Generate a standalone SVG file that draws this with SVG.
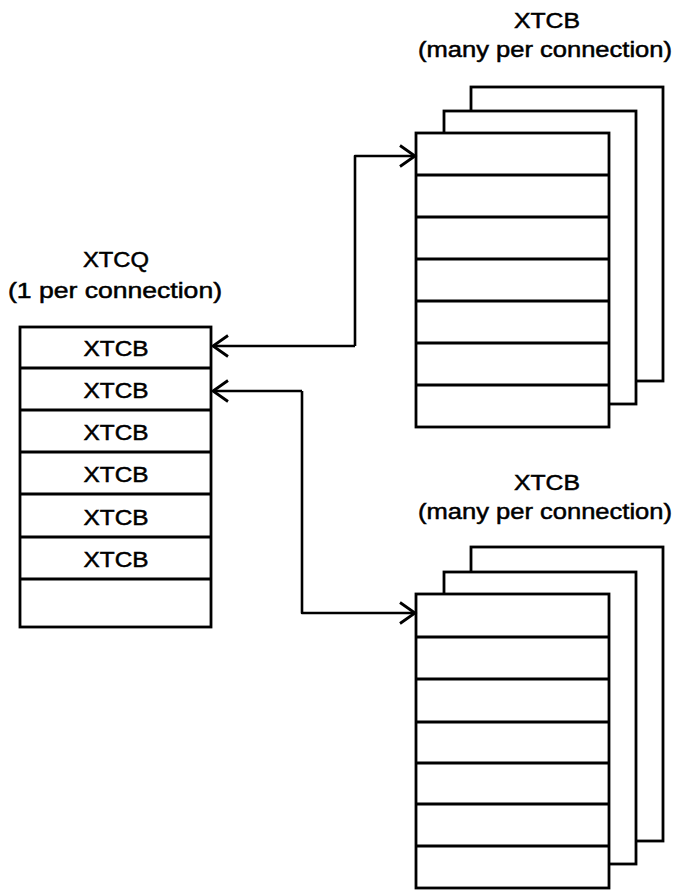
<svg xmlns="http://www.w3.org/2000/svg" width="678" height="890" viewBox="0 0 678 890">
<style>
.box{fill:#fff;stroke:#000;stroke-width:2.8}
.ln{stroke:#000;stroke-width:2.8;fill:none}
.con{stroke:#000;stroke-width:2.6;fill:none;stroke-linejoin:round}
.t{font-family:"Liberation Sans",Arial,sans-serif;font-size:22px;fill:#000;stroke:#000;stroke-width:0.5;text-anchor:middle}
</style>
<defs>
<marker id="arr" markerUnits="userSpaceOnUse" markerWidth="20" markerHeight="26" viewBox="-17 -13 20 26" refX="0" refY="0" orient="auto">
<path d="M-15,-10.5 L0,0 L-15,10.5" fill="none" stroke="#000" stroke-width="2.8"/>
</marker>
</defs>
<rect width="678" height="890" fill="#fff"/>

<g id="xtcq">
<text class="t" x="116" y="267" textLength="66" lengthAdjust="spacingAndGlyphs">XTCQ</text>
<text class="t" x="115" y="298" textLength="214" lengthAdjust="spacingAndGlyphs">(1 per connection)</text>
<rect class="box" x="20" y="327" width="191" height="300"/>
<path class="ln" d="M20,368H211M20,410H211M20,452H211M20,494H211M20,537H211M20,579H211"/>
<text class="t" x="116" y="356" textLength="65" lengthAdjust="spacingAndGlyphs">XTCB</text>
<text class="t" x="116" y="398" textLength="65" lengthAdjust="spacingAndGlyphs">XTCB</text>
<text class="t" x="116" y="440" textLength="65" lengthAdjust="spacingAndGlyphs">XTCB</text>
<text class="t" x="116" y="482" textLength="65" lengthAdjust="spacingAndGlyphs">XTCB</text>
<text class="t" x="116" y="525" textLength="65" lengthAdjust="spacingAndGlyphs">XTCB</text>
<text class="t" x="116" y="567" textLength="65" lengthAdjust="spacingAndGlyphs">XTCB</text>
</g>

<g id="xtcb-top">
<text class="t" x="547" y="28" textLength="66" lengthAdjust="spacingAndGlyphs">XTCB</text>
<text class="t" x="545" y="57" textLength="254" lengthAdjust="spacingAndGlyphs">(many per connection)</text>
<rect class="box" x="471" y="87" width="192" height="294"/>
<rect class="box" x="444" y="111" width="192" height="293"/>
<rect class="box" x="416" y="133" width="193" height="294"/>
<path class="ln" d="M416,175H609M416,217H609M416,259H609M416,301H609M416,343H609M416,385H609"/>
</g>

<g id="xtcb-bottom">
<text class="t" x="547" y="490" textLength="66" lengthAdjust="spacingAndGlyphs">XTCB</text>
<text class="t" x="545" y="519" textLength="254" lengthAdjust="spacingAndGlyphs">(many per connection)</text>
<rect class="box" x="471" y="547" width="192" height="294"/>
<rect class="box" x="444" y="572" width="192" height="292"/>
<rect class="box" x="416" y="594" width="193" height="294"/>
<path class="ln" d="M416,637H609M416,679H609M416,722H609M416,763H609M416,804H609M416,846H609"/>
</g>

<g id="connectors">
<path class="con" d="M355,346H213" marker-end="url(#arr)"/>
<path class="con" d="M355,346V156H415" marker-end="url(#arr)"/>
<path class="con" d="M302,391H213" marker-end="url(#arr)"/>
<path class="con" d="M302,391V613H415" marker-end="url(#arr)"/>
</g>
</svg>
